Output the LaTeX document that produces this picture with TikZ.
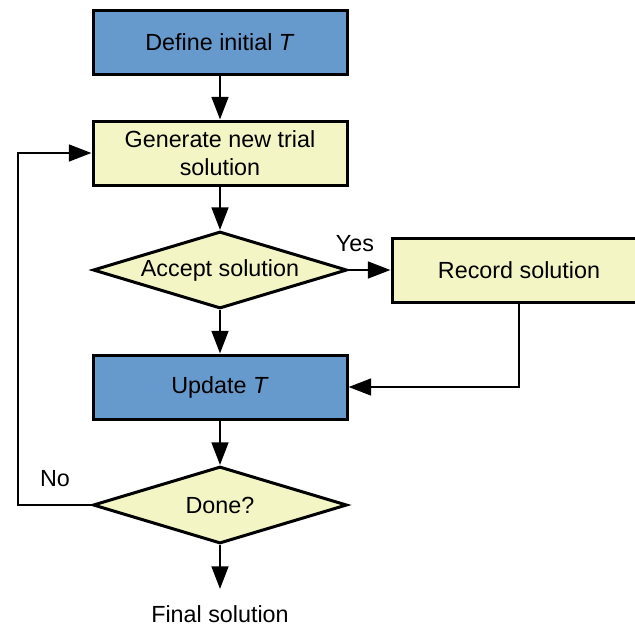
\documentclass[tikz,border=0pt]{standalone}
\usepackage{fontspec}
\setmainfont{Liberation Sans}
\usetikzlibrary{shapes.geometric,arrows.meta}
\definecolor{boxblue}{HTML}{6699CC}
\definecolor{boxyellow}{HTML}{F3F5C5}
\begin{document}
\begin{tikzpicture}[x=0.75pt,y=-0.75pt,
  font=\fontsize{17.5}{21}\selectfont,
  bluebox/.style={draw=black,line width=2.25pt,fill=boxblue,minimum width=190.5pt,minimum height=48pt,inner sep=0pt,align=center},
  yellowbox/.style={draw=black,line width=2.25pt,fill=boxyellow,minimum width=190.5pt,minimum height=48pt,inner sep=0pt,align=center},
  decision/.style={draw=black,line width=2.25pt,fill=boxyellow,diamond,aspect=3.3,minimum width=190.5pt,minimum height=57.75pt,inner sep=0pt},
  conn/.style={line width=2pt,-{Triangle[length=17pt,width=12.5pt]}},
  plain/.style={line width=2pt}]
\useasboundingbox (0,0) rectangle (635,626);
\clip (0,0) rectangle (635,626);
\node[bluebox] (def) at (220,42) {Define initial \textit{T}};
\node[yellowbox] (gen) at (220,153) {Generate new trial\\solution};
\node[decision] (acc) at (220,270) {Accept solution};
\node[yellowbox] (rec) at (519,270.5) {Record solution};
\node[bluebox] (upd) at (220,387) {Update \textit{T}};
\node[decision] (done) at (220,505) {Done?};
\node (fin) at (220,614) {Final solution};
\coordinate (finend) at (220,589);
\coordinate (lb) at (18,505);
\coordinate (lt) at (18,153);
\coordinate (rb) at (519,387);
\draw[conn] (def) -- (gen);
\draw[conn] (gen) -- (acc);
\draw[conn] (acc) -- (upd);
\draw[conn] (upd) -- (done);
\draw[conn] (done.south) -- (finend);
\draw[conn] (acc.east) -- (rec.west |- acc.east);
\draw[conn] (rec.south -| rb) -- (rb) -- (upd.east);
\draw[conn] (done.west) -- (lb) -- (lt) -- (gen.west);
\node (yes) at (355,244) {Yes};
\node (no) at (55,479) {No};
\end{tikzpicture}
\end{document}
